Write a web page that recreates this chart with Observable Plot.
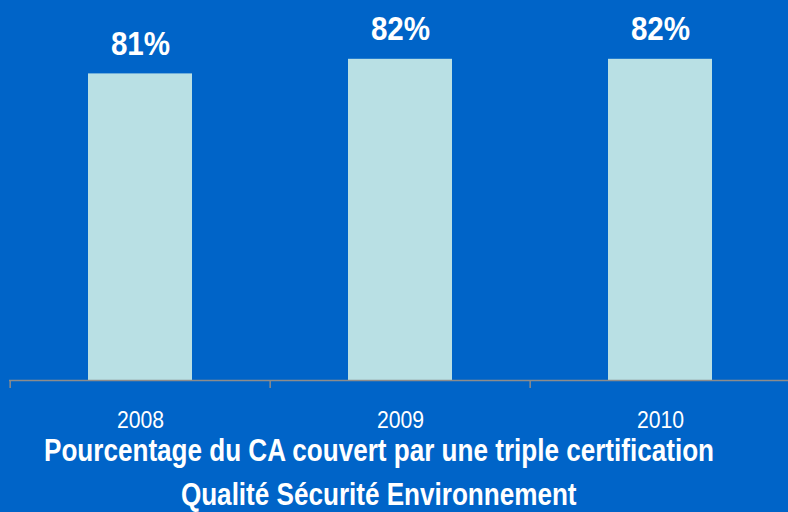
<!DOCTYPE html>
<html><head><meta charset="utf-8">
<script src="https://cdn.jsdelivr.net/npm/d3@7"></script>
<script src="https://cdn.jsdelivr.net/npm/@observablehq/plot@0.6"></script>
<style>
html,body{margin:0;padding:0;background:#0064C8;width:788px;height:512px;overflow:hidden;}
body{position:relative;font-family:"Liberation Sans Narrow","Arial Narrow","Liberation Sans",Arial,sans-serif;}
#chart{position:absolute;left:0;top:0;}
#caption{position:absolute;left:-121px;top:432px;width:1000px;text-align:center;color:#fff;font-weight:bold;font-size:32px;line-height:36px;white-space:nowrap;}
#caption div + div{margin-top:8px;}
#caption span{display:inline-block;transform:scaleX(0.815);transform-origin:50% 50%;}
</style></head><body>
<div id="chart"></div>
<div id="caption"></div>
<script>
const years = ["2008", "2009", "2010"];
const values = [81, 82, 82];
const labels = ["81%", "82%", "82%"];
const captionLines = ["Pourcentage du CA couvert par une triple certification", "Qualité Sécurité Environnement"];

const data = years.map((y, i) => ({year: y, value: values[i], label: labels[i]}));
const FONT = '"Liberation Sans Narrow","Arial Narrow","Liberation Sans",Arial,sans-serif';
const xOpts = {type: "band", domain: years, range: [9, 791], paddingInner: 0.6, paddingOuter: 0.3};
const xs = Plot.scale({x: xOpts});
const step = xs.step ?? (xs.bandwidth / 0.4);

const chart = Plot.plot({
  width: 788, height: 435,
  marginLeft: 9, marginRight: 0, marginTop: 15, marginBottom: 55,
  style: {background: "transparent", color: "#fff", fontFamily: FONT, overflow: "visible"},
  x: {...xOpts, axis: null},
  y: {domain: [60, 85], range: [380, 15], axis: null},
  marks: [
    Plot.barY(data, {x: "year", y1: 60, y2: "value", fill: "#B9E0E4"}),
    Plot.ruleY([60], {stroke: "#8C8C8C", strokeWidth: 1.5}),
    Plot.ruleX(years, {x: d => d, y1: 60, y2: 60, insetBottom: -8, dx: -step / 2, stroke: "#8C8C8C", strokeWidth: 1.5}),
    Plot.text(data, {x: "year", y: "value", text: "label", lineAnchor: "bottom", dy: -19, fill: "#fff", fontSize: 34, fontWeight: "bold"}),
    Plot.axisX({tickSize: 0, tickPadding: 31, fontSize: 23, fill: "#fff", label: null})
  ]
});
document.getElementById("chart").appendChild(chart);

function condense(selector, f) {
  chart.querySelectorAll(selector).forEach(t => {
    const w = t.getComputedTextLength();
    t.setAttribute("textLength", (w * f).toFixed(1));
    t.setAttribute("lengthAdjust", "spacingAndGlyphs");
  });
}
condense('g[aria-label="text"] text', 0.87);
condense('g[aria-label="x-axis tick label"] text', 0.92);

const cap = document.getElementById("caption");
captionLines.forEach(t => {
  const d = document.createElement("div");
  const s = document.createElement("span");
  s.textContent = t;
  d.appendChild(s);
  cap.appendChild(d);
});
</script>
</body></html>
